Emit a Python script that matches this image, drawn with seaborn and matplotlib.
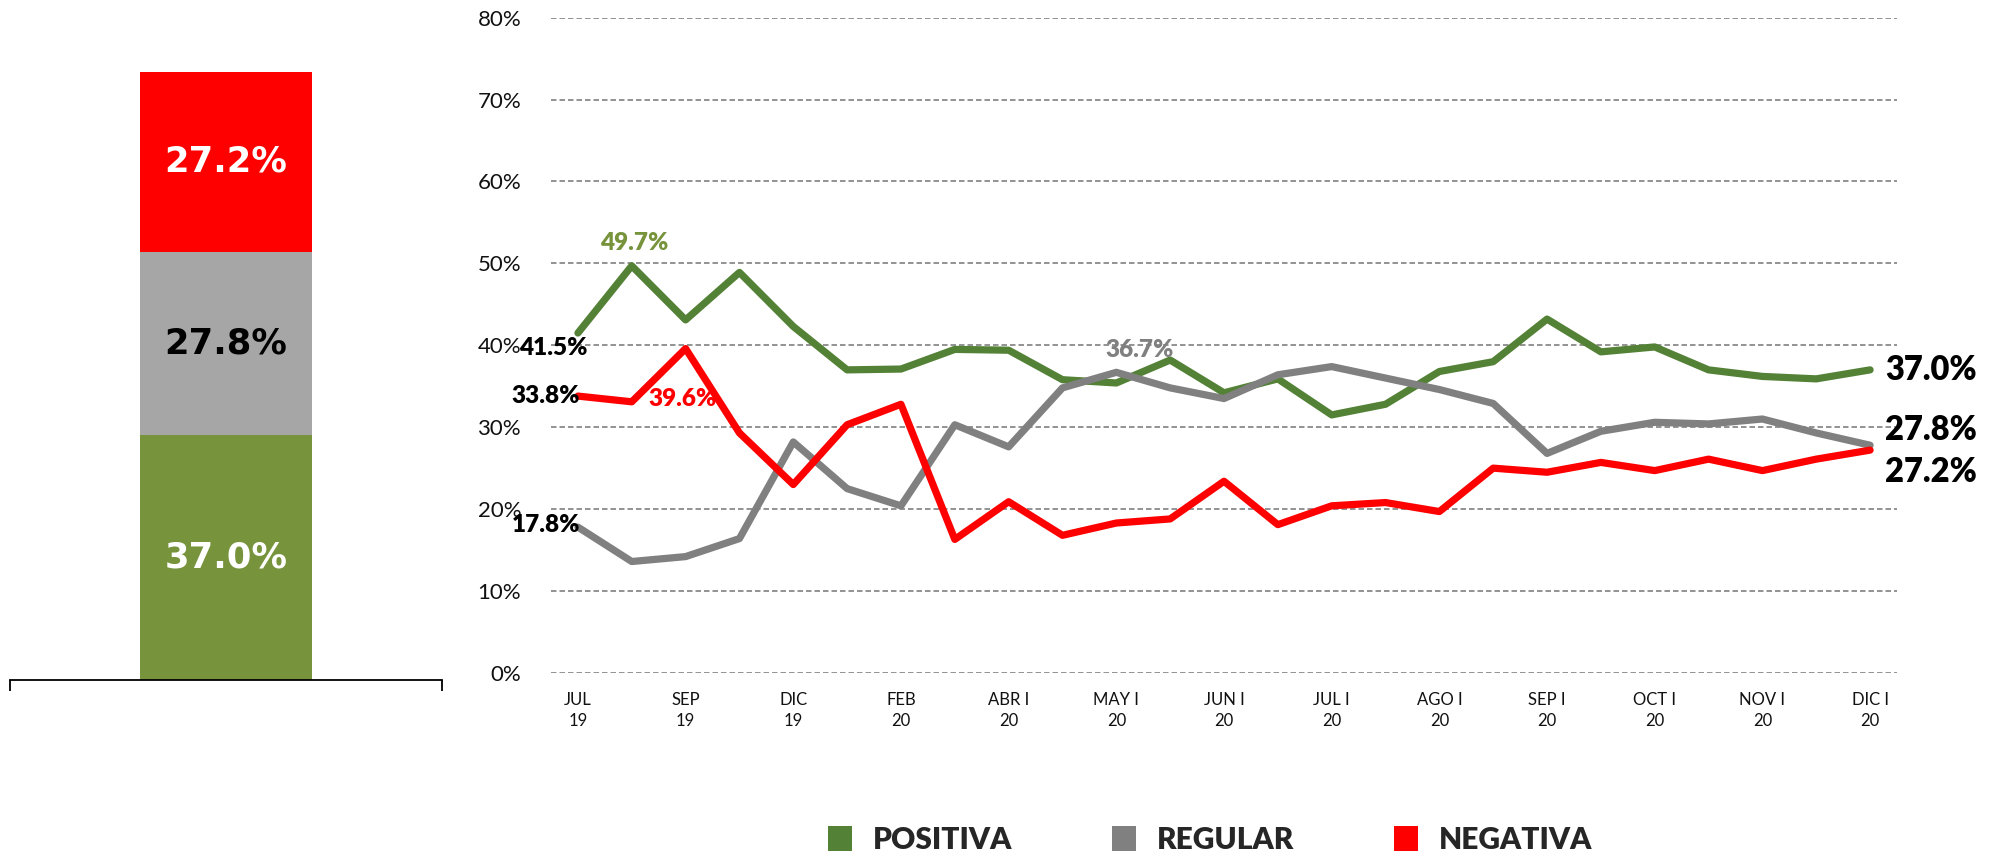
import matplotlib
matplotlib.use("Agg")
import matplotlib.pyplot as plt
from matplotlib.patches import Patch
import pandas as pd
import seaborn as sns

# data
periods = ["JUL\n19", "AGO\n19", "SEP\n19", "OCT\n19", "DIC\n19", "ENE\n20", "FEB\n20", "MAR\n20",
           "ABR I\n20", "ABR II\n20", "MAY I\n20", "MAY II\n20", "JUN I\n20", "JUN II\n20",
           "JUL I\n20", "JUL II\n20", "AGO I\n20", "AGO II\n20", "SEP I\n20", "SEP II\n20",
           "OCT I\n20", "OCT II\n20", "NOV I\n20", "NOV II\n20", "DIC I\n20"]

positiva = [41.5, 49.7, 43.1, 48.9, 42.3, 37.0, 37.1, 39.5, 39.4, 35.8, 35.4, 38.2, 34.2,
            35.9, 31.5, 32.8, 36.8, 38.0, 43.2, 39.2, 39.8, 37.0, 36.2, 35.9, 37.0]
regular = [17.8, 13.6, 14.2, 16.4, 28.2, 22.5, 20.4, 30.3, 27.6, 34.8, 36.7, 34.8, 33.5,
           36.4, 37.4, 36.0, 34.6, 32.9, 26.8, 29.5, 30.6, 30.4, 31.0, 29.3, 27.8]
negativa = [33.8, 33.1, 39.6, 29.3, 23.0, 30.3, 32.8, 16.3, 20.9, 16.8, 18.3, 18.8, 23.4,
            18.1, 20.4, 20.8, 19.7, 25.0, 24.5, 25.7, 24.7, 26.1, 24.7, 26.1, 27.2]

series_names = ["POSITIVA", "REGULAR", "NEGATIVA"]
bar_values = [37.0, 27.8, 27.2]

line_colors = {"POSITIVA": "#538135", "REGULAR": "#808080", "NEGATIVA": "#FF0000"}
bar_colors = {"POSITIVA": "#77933C", "REGULAR": "#A6A6A6", "NEGATIVA": "#FF0000"}
bar_text_colors = {"POSITIVA": "white", "REGULAR": "black", "NEGATIVA": "white"}

df = pd.DataFrame({
    "x": list(range(len(periods))) * 3,
    "valor": positiva + regular + negativa,
    "serie": [n for n in series_names for _ in periods],
})

sns.set_style("white")
plt.rcParams["font.family"] = ["Lato", "DejaVu Sans"]

W, H = 1993, 858
fig = plt.figure(figsize=(W / 100, H / 100), dpi=100)

# left stacked bar (latest wave)
ax_bar = fig.add_axes([10 / W, 178 / H, 432 / W, 661 / H])
bottom = 0
for name, val in zip(series_names, bar_values):
    ax_bar.bar(0, val, width=0.4, bottom=bottom, color=bar_colors[name], linewidth=0)
    ax_bar.text(0, bottom + val / 2, f"{val:.1f}%", ha="center", va="center",
                color=bar_text_colors[name], fontsize=25.5, fontweight="bold",
                family="DejaVu Sans")
    bottom += val
ax_bar.set_xlim(-0.5, 0.5)
ax_bar.set_ylim(0, 100)
for s in ["top", "left", "right"]:
    ax_bar.spines[s].set_visible(False)
ax_bar.spines["bottom"].set_color("black")
ax_bar.spines["bottom"].set_linewidth(1.3)
ax_bar.set_xticks([-0.5, 0.5])
ax_bar.set_xticklabels(["", ""])
ax_bar.set_yticks([])
ax_bar.tick_params(axis="x", bottom=True, direction="out", length=8, width=1.3, color="black")

# trend lines
ax = fig.add_axes([551 / W, 185.1 / H, 1346 / W, 655.2 / H])
sns.lineplot(data=df, x="x", y="valor", hue="serie", palette=line_colors,
             linewidth=5.2, ax=ax, legend=False, sort=False)
for line in ax.lines:
    line.set_solid_capstyle("round")

ax.set_xlim(-0.5, len(periods) - 0.5)
ax.set_ylim(0, 80)
ax.set_yticks(range(0, 81, 10))
ax.set_yticklabels([f"{v}%" for v in range(0, 81, 10)])
ax.set_xticks(range(0, len(periods), 2))
ax.set_xticklabels(periods[::2])
ax.tick_params(axis="y", labelsize=16, pad=18, left=False, labelcolor="#111111")
ax.tick_params(axis="x", labelsize=12, pad=10, bottom=False, labelcolor="#111111")
for lbl in ax.get_xticklabels():
    lbl.set_linespacing(1.4)
ax.yaxis.grid(True, color="#808080", linestyle=(0, (3.3, 1.8)), linewidth=1.2)
ax.xaxis.grid(False)
ax.set_axisbelow(True)
for s in ax.spines.values():
    s.set_visible(False)
ax.set_xlabel("")
ax.set_ylabel("")

# point labels
small = dict(fontsize=17.5, fontweight="heavy", textcoords="offset pixels", va="center")
ax.annotate("41.5%", (0, positiva[0]), (10, -15), ha="right", color="black", **small)
ax.annotate("49.7%", (1, positiva[1]), (2, 23), ha="center", color="#77933C", **small)
ax.annotate("33.8%", (0, negativa[0]), (2, 0), ha="right", color="black", **small)
ax.annotate("39.6%", (2, negativa[2]), (-3, -50), ha="center", color="#FF0000", **small)
ax.annotate("17.8%", (0, regular[0]), (2, 2), ha="right", color="black", **small)
ax.annotate("36.7%", (10, regular[10]), (23, 22), ha="center", color="#808080", **small)

big = dict(fontsize=23.5, fontweight="heavy", textcoords="offset pixels", va="center",
           ha="left", color="black")
last = len(periods) - 1
ax.annotate(f"{positiva[-1]:.1f}%", (last, positiva[-1]), (15, 0), **big)
ax.annotate(f"{regular[-1]:.1f}%", (last, regular[-1]), (15, 15), **big)
ax.annotate(f"{negativa[-1]:.1f}%", (last, negativa[-1]), (15, -22), **big)

# legend
handles = [Patch(facecolor=line_colors[n], edgecolor="none", label=n) for n in series_names]
fig.legend(handles=handles, loc="center", bbox_to_anchor=(1210 / W, 18 / H), ncol=3,
           frameon=False, prop={"weight": "heavy", "size": 21.5}, handlelength=0.8,
           handleheight=0.92, handletextpad=0.7, columnspacing=3.35, borderpad=0,
           borderaxespad=0)

fig.savefig("out.png", dpi=100)
